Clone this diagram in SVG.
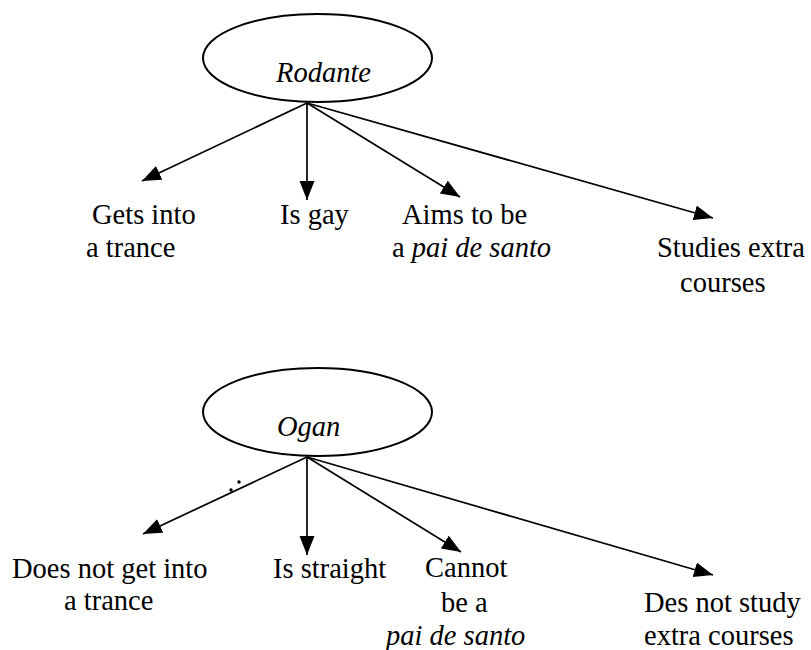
<svg xmlns="http://www.w3.org/2000/svg" width="811" height="650" viewBox="0 0 811 650">
<style>
.node ellipse{fill:#fff;stroke:#000;stroke-width:2}
.conn line{stroke:#000;stroke-width:1.7}
</style>
<defs>
<marker id="ah" markerUnits="userSpaceOnUse" markerWidth="20" markerHeight="16" refX="19" refY="7.5" orient="auto">
<path d="M0,0 L19,7.5 L0,15 z" fill="#000"/>
</marker>
</defs>
<rect width="811" height="650" fill="#fff"/>
<g id="connectors" class="conn">
<line x1="307" y1="103" x2="142" y2="181" marker-end="url(#ah)"/>
<line x1="307" y1="103" x2="307" y2="200" marker-end="url(#ah)"/>
<line x1="307" y1="103" x2="460" y2="197" marker-end="url(#ah)"/>
<line x1="307" y1="103" x2="713" y2="218" marker-end="url(#ah)"/>
<line x1="307" y1="457" x2="143" y2="534" marker-end="url(#ah)"/>
<line x1="307" y1="457" x2="307" y2="555" marker-end="url(#ah)"/>
<line x1="307" y1="457" x2="461" y2="552" marker-end="url(#ah)"/>
<line x1="307" y1="457" x2="713" y2="575" marker-end="url(#ah)"/>
</g>
<g id="rodante" class="node">
<ellipse cx="317.5" cy="58" rx="114.5" ry="44"/>
<text x="276" y="82" style="font-family:'Liberation Serif',serif;font-size:28.5px;font-style:italic">Rodante</text>
</g>
<g id="trance">
<text x="92" y="224" style="font-family:'Liberation Serif',serif;font-size:28.5px">Gets into</text>
<text x="86" y="257" style="font-family:'Liberation Serif',serif;font-size:28.5px">a trance</text>
</g>
<g id="gay"><text x="280" y="224" style="font-family:'Liberation Serif',serif;font-size:28.5px">Is gay</text></g>
<g id="aims">
<text x="402" y="224" style="font-family:'Liberation Serif',serif;font-size:28.5px">Aims to be</text>
<text x="392" y="257" style="font-family:'Liberation Serif',serif;font-size:28.5px">a <tspan style="font-style:italic">pai de santo</tspan></text>
</g>
<g id="studies">
<text x="657" y="257" style="font-family:'Liberation Serif',serif;font-size:28.5px">Studies extra</text>
<text x="680" y="292" style="font-family:'Liberation Serif',serif;font-size:28.5px">courses</text>
</g>
<g id="ogan" class="node">
<ellipse cx="317.5" cy="412" rx="114.5" ry="44"/>
<text x="277" y="436" style="font-family:'Liberation Serif',serif;font-size:28.5px;font-style:italic">Ogan</text>
</g>
<g id="notrance">
<text x="12" y="578" style="font-family:'Liberation Serif',serif;font-size:28.5px">Does not get into</text>
<text x="64" y="610" style="font-family:'Liberation Serif',serif;font-size:28.5px">a trance</text>
</g>
<g id="straight"><text x="273" y="578" style="font-family:'Liberation Serif',serif;font-size:28.5px">Is straight</text></g>
<g id="cannot">
<text x="425" y="577" style="font-family:'Liberation Serif',serif;font-size:28.5px">Cannot</text>
<text x="441" y="612" style="font-family:'Liberation Serif',serif;font-size:28.5px">be a</text>
<text x="386" y="645" style="font-family:'Liberation Serif',serif;font-size:28.5px;font-style:italic">pai de santo</text>
</g>
<g id="nostudy">
<text x="644" y="612" style="font-family:'Liberation Serif',serif;font-size:28.5px">Des not study</text>
<text x="644" y="645" style="font-family:'Liberation Serif',serif;font-size:28.5px">extra courses</text>
</g>
<g id="dots">
<circle cx="231" cy="490" r="1.7"/>
<circle cx="239" cy="482" r="1.7"/>
</g>
</svg>
